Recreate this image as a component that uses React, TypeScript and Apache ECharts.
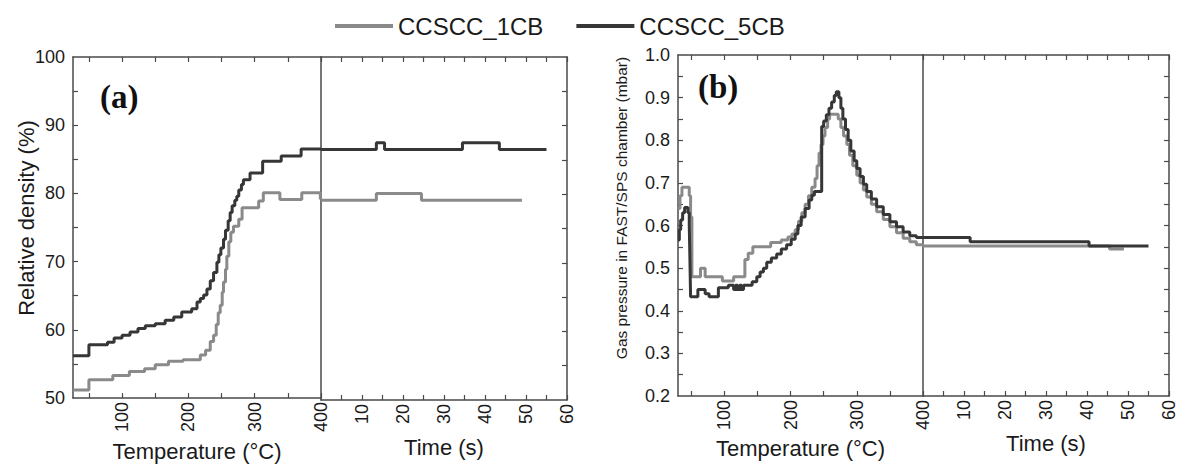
import React, { useEffect, useRef } from "react";
import * as echarts from "echarts";

// ---------- names & labels ----------
const seriesNames = ["CCSCC_1CB", "CCSCC_5CB"];
const panelLabels = ["(a)", "(b)"];
const tempAxisName = "Temperature (°C)";
const timeAxisName = "Time (s)";
const densityAxisName = "Relative density (%)";
const pressureAxisName = "Gas pressure in FAST/SPS chamber (mbar)";

// ---------- tick values ----------
const tempTicks = [50, 100, 150, 200, 250, 300, 350, 400];
const tempLabels = [100, 200, 300, 400];
const timeTicks = [5, 10, 15, 20, 25, 30, 35, 40, 45, 50, 55, 60];
const timeLabels = [10, 20, 30, 40, 50, 60];
const densityTicks = [55, 60, 65, 70, 75, 80, 85, 90, 95];
const densityLabels = [50, 60, 70, 80, 90, 100];
const pressureTicks = [0.25, 0.3, 0.35, 0.4, 0.45, 0.5, 0.55, 0.6, 0.65, 0.7, 0.75, 0.8, 0.85, 0.9, 0.95];
const pressureLabels = [0.2, 0.3, 0.4, 0.5, 0.6, 0.7, 0.8, 0.9, 1.0];

// ---------- panel (a): relative density ----------
const densityTemp1CB = [
  [26, 51.2], [50, 52.7], [86, 53.3], [111, 53.9], [134, 54.3], [150, 54.9], [170, 55.4],
  [192, 55.6], [218, 56.3], [226, 57.0], [233, 58.3], [238, 59.2], [242, 60.8], [245, 62.5],
  [248, 63.6], [251, 65.5], [253, 67.0], [256, 68.9], [258, 70.8], [261, 72.9], [264, 74.3],
  [268, 75.2], [276, 76.2], [281, 77.9], [306, 78.9], [313, 80.1], [338, 79.1], [371, 80.1],
  [399, 79.1], [400, 79.1],
];
const densityTemp5CB = [
  [26, 56.2], [50, 57.8], [78, 58.2], [88, 58.8], [100, 59.2], [112, 59.7], [124, 60.2],
  [135, 60.6], [150, 60.9], [165, 61.4], [178, 61.9], [190, 62.6], [205, 63.1], [213, 64.1],
  [218, 64.6], [223, 65.1], [228, 66.0], [233, 67.2], [238, 68.4], [243, 69.9], [246, 71.0],
  [249, 72.0], [253, 73.3], [256, 74.6], [260, 76.0], [263, 77.2], [266, 78.2], [270, 79.0],
  [273, 79.6], [276, 80.5], [280, 81.3], [283, 82.0], [293, 83.0], [312, 84.7], [340, 85.5],
  [370, 86.5], [400, 86.5],
];
const densityTime1CB = [[0, 79.1], [13.5, 80.1], [24.5, 79.1], [49, 79.1]];
const densityTime5CB = [[0, 86.5], [13.5, 87.5], [15.5, 86.5], [34.5, 87.5], [43.5, 86.5], [55, 86.5]];

// ---------- panel (b): gas pressure ----------
const pressureTemp1CB = [
  [30, 0.64], [33, 0.67], [36, 0.69], [45, 0.69], [47, 0.67], [49, 0.62], [51, 0.48],
  [64, 0.50], [71, 0.48], [97, 0.47], [114, 0.48], [131, 0.52], [136, 0.535], [143, 0.55],
  [170, 0.56], [186, 0.566], [196, 0.573], [202, 0.58], [207, 0.59], [212, 0.61], [217, 0.63],
  [222, 0.65], [227, 0.67], [232, 0.69], [237, 0.71], [240, 0.74], [243, 0.77], [246, 0.79],
  [249, 0.81], [252, 0.83], [256, 0.85], [259, 0.861], [272, 0.85], [276, 0.83], [280, 0.81],
  [285, 0.79], [289, 0.765], [294, 0.74], [300, 0.718], [305, 0.70], [310, 0.683], [315, 0.667],
  [322, 0.65], [330, 0.632], [340, 0.614], [350, 0.597], [360, 0.583], [370, 0.57], [380, 0.562],
  [390, 0.555], [400, 0.552],
];
const pressureTemp5CB = [
  [30, 0.566], [32, 0.59], [34, 0.613], [37, 0.63], [40, 0.642], [45, 0.63], [47, 0.6],
  [48, 0.52], [49, 0.433], [60, 0.45], [71, 0.44], [77, 0.433], [91, 0.454], [106, 0.46],
  [114, 0.45], [117, 0.46], [120, 0.45], [123, 0.46], [126, 0.45], [129, 0.46], [142, 0.468],
  [149, 0.48], [154, 0.491], [159, 0.5], [164, 0.514], [171, 0.524], [179, 0.533], [186, 0.545],
  [194, 0.555], [201, 0.568], [207, 0.58], [211, 0.6], [216, 0.62], [222, 0.64], [228, 0.66],
  [232, 0.671], [236, 0.68], [247, 0.832], [250, 0.845], [254, 0.86], [258, 0.875], [262, 0.89],
  [266, 0.905], [269, 0.914], [273, 0.9], [276, 0.875], [279, 0.85], [283, 0.825], [287, 0.8],
  [291, 0.775], [296, 0.752], [300, 0.734], [305, 0.715], [310, 0.697], [315, 0.68], [322, 0.662],
  [330, 0.644], [340, 0.626], [350, 0.609], [360, 0.597], [370, 0.585], [380, 0.576], [390, 0.572],
  [400, 0.572],
];
const pressureTime1CB = [[0, 0.552], [45.5, 0.545], [49, 0.545]];
const pressureTime5CB = [[0, 0.572], [11.5, 0.562], [40.5, 0.552], [55, 0.552]];

// ---------- styles ----------
const FONT = "Liberation Sans";
const LIGHT = "#8a8a8a";
const DARK = "#363636";
const AXIS = "#4a4a4a";
const TEXT = "#1a1a1a";

const lineAxis = { show: true, onZero: false, lineStyle: { color: AXIS, width: 1.5 } };

function xBottom(gridIndex: number, min: number, max: number, ticks: number[], labels: number[], name: string) {
  return {
    type: "value", gridIndex, position: "bottom", min, max,
    axisLine: lineAxis,
    splitLine: { show: false },
    axisTick: { show: true, inside: true, length: 5, lineStyle: { color: AXIS, width: 1.2 }, customValues: ticks },
    axisLabel: {
      show: true, rotate: 90, margin: 4, fontSize: 18, color: TEXT, fontFamily: FONT,
      customValues: labels,
    },
    name, nameLocation: "middle", nameGap: 36,
    nameTextStyle: { fontSize: 22, color: TEXT, fontFamily: FONT },
  };
}
function xTop(gridIndex: number, min: number, max: number, ticks: number[]) {
  return {
    type: "value", gridIndex, position: "top", min, max,
    axisLine: lineAxis,
    splitLine: { show: false },
    axisTick: { show: true, inside: true, length: 5, lineStyle: { color: AXIS, width: 1.2 }, customValues: ticks },
    axisLabel: { show: false },
  };
}
function yAxis(gridIndex: number, position: string, min: number, max: number, ticks: number[] | null, labels: number[] | null, digits: number) {
  return {
    type: "value", gridIndex, position, min, max,
    axisLine: lineAxis,
    splitLine: { show: false },
    axisTick: ticks
      ? { show: true, inside: true, length: 5, lineStyle: { color: AXIS, width: 1.2 }, customValues: ticks }
      : { show: false },
    axisLabel: labels
      ? {
          show: true, margin: 8, fontSize: 18, color: TEXT, fontFamily: FONT, customValues: labels,
          formatter: (v: number) => v.toFixed(digits),
        }
      : { show: false },
  };
}
function line(name: string, color: string, x: number, y: number, data: number[][]) {
  return {
    type: "line", name, xAxisIndex: x, yAxisIndex: y, data, step: "end",
    showSymbol: false, symbol: "none", color,
    lineStyle: { color, width: 3 }, z: color === DARK ? 3 : 2,
  };
}

export default function App() {
  const ref = useRef<HTMLDivElement>(null);
  useEffect(() => {
    const chart = echarts.init(ref.current!, null, { renderer: "svg" });
    chart.setOption({
      animation: false,
      backgroundColor: "#ffffff",
      textStyle: { fontFamily: FONT },
      legend: {
        data: seriesNames, left: 330, top: 9, icon: "rect", itemWidth: 58, itemHeight: 4, itemGap: 33,
        textStyle: { fontSize: 24, color: TEXT, fontFamily: FONT },
      },
      grid: [
        { left: 73, top: 57, width: 248, height: 343 },
        { left: 321, top: 57, width: 246, height: 343 },
        { left: 678, top: 55, width: 245, height: 341 },
        { left: 923, top: 55, width: 246, height: 341 },
      ],
      xAxis: [
        xBottom(0, 26, 400, tempTicks, tempLabels, tempAxisName),
        xTop(0, 26, 400, tempTicks),
        xBottom(1, 0, 60, timeTicks, timeLabels, timeAxisName),
        xTop(1, 0, 60, timeTicks),
        xBottom(2, 30, 400, tempTicks, tempLabels, tempAxisName),
        xTop(2, 30, 400, tempTicks),
        xBottom(3, 0, 60, timeTicks, timeLabels, timeAxisName),
        xTop(3, 0, 60, timeTicks),
      ],
      yAxis: [
        yAxis(0, "left", 50, 100, densityTicks, densityLabels, 0),
        yAxis(1, "left", 50, 100, null, null, 0),
        yAxis(1, "right", 50, 100, densityTicks, null, 0),
        yAxis(2, "left", 0.2, 1.0, pressureTicks, pressureLabels, 1),
        yAxis(3, "left", 0.2, 1.0, null, null, 1),
        yAxis(3, "right", 0.2, 1.0, pressureTicks, null, 1),
      ],
      series: [
        line(seriesNames[0], LIGHT, 0, 0, densityTemp1CB),
        line(seriesNames[1], DARK, 0, 0, densityTemp5CB),
        line(seriesNames[0], LIGHT, 2, 1, densityTime1CB),
        line(seriesNames[1], DARK, 2, 1, densityTime5CB),
        line(seriesNames[0], LIGHT, 4, 3, pressureTemp1CB),
        line(seriesNames[1], DARK, 4, 3, pressureTemp5CB),
        line(seriesNames[0], LIGHT, 6, 4, pressureTime1CB),
        line(seriesNames[1], DARK, 6, 4, pressureTime5CB),
      ],
      graphic: [
        {
          type: "text", x: 26, y: 218, rotation: Math.PI / 2,
          style: { text: densityAxisName, fontSize: 22, fontFamily: FONT, fill: TEXT, align: "center", verticalAlign: "middle" },
        },
        {
          type: "text", x: 621, y: 208, rotation: Math.PI / 2,
          style: { text: pressureAxisName, fontSize: 15.5, fontFamily: FONT, fill: TEXT, align: "center", verticalAlign: "middle" },
        },
        {
          type: "text", x: 100, y: 97,
          style: { text: panelLabels[0], fontSize: 33, fontWeight: "bold", fontFamily: "Liberation Serif", fill: "#111", align: "left", verticalAlign: "middle" },
        },
        {
          type: "text", x: 698, y: 87,
          style: { text: panelLabels[1], fontSize: 33, fontWeight: "bold", fontFamily: "Liberation Serif", fill: "#111", align: "left", verticalAlign: "middle" },
        },
      ],
    });
    return () => chart.dispose();
  }, []);
  return (
    <div
      ref={ref}
      style={{ position: "absolute", left: 0, top: 0, width: 1179, height: 467, background: "#fff" }}
    />
  );
}
